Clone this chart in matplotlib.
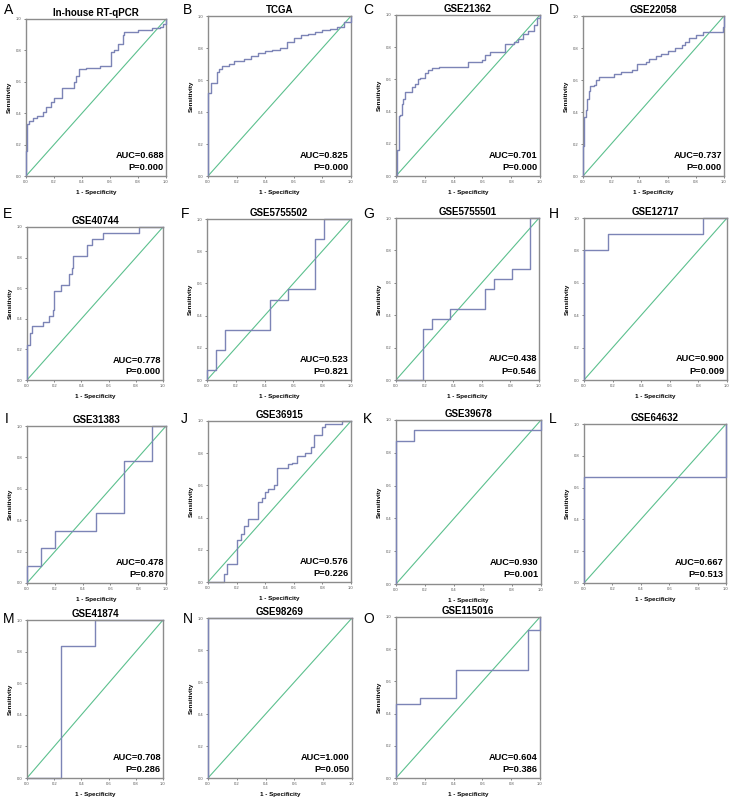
import matplotlib
matplotlib.use("Agg")
import matplotlib.pyplot as plt

plt.rcParams["font.family"] = ["Liberation Sans", "DejaVu Sans"]

W, H = 732, 807

titles = ["In-house RT-qPCR", "TCGA", "GSE21362", "GSE22058", "GSE40744",
          "GSE5755502", "GSE5755501", "GSE12717", "GSE31383", "GSE36915",
          "GSE39678", "GSE64632", "GSE41874", "GSE98269", "GSE115016"]
letters = list("ABCDEFGHIJKLMNO")
auc = ["0.688", "0.825", "0.701", "0.737", "0.778", "0.523", "0.438", "0.900",
       "0.478", "0.576", "0.930", "0.667", "0.708", "1.000", "0.604"]
pval = ["0.000", "0.000", "0.000", "0.000", "0.000", "0.821", "0.546", "0.009",
        "0.870", "0.226", "0.001", "0.513", "0.286", "0.050", "0.386"]

# step curves: (1 - specificity, sensitivity) corners
fpr_A = [0, 0, 0.01, 0.02, 0.05, 0.08, 0.12, 0.14, 0.18, 0.20, 0.26, 0.34, 0.36, 0.38, 0.43,
         0.53, 0.61, 0.63, 0.66, 0.69, 0.70, 0.80, 0.90, 0.96, 0.98, 1.0]
tpr_A = [0, 0.16, 0.33, 0.35, 0.37, 0.38, 0.41, 0.44, 0.47, 0.50, 0.56, 0.60, 0.64, 0.68, 0.69,
         0.70, 0.79, 0.80, 0.84, 0.90, 0.92, 0.93, 0.94, 0.95, 0.97, 1.0]
fpr_B = [0, 0, 0.02, 0.06, 0.08, 0.10, 0.15, 0.18, 0.25, 0.30, 0.35, 0.40, 0.45, 0.50, 0.55,
         0.60, 0.65, 0.70, 0.75, 0.80, 0.85, 0.90, 0.95, 1.0]
tpr_B = [0, 0.52, 0.58, 0.65, 0.67, 0.69, 0.70, 0.72, 0.73, 0.75, 0.77, 0.78, 0.79, 0.80, 0.84,
         0.86, 0.88, 0.89, 0.90, 0.91, 0.92, 0.93, 0.96, 1.0]
fpr_C = [0, 0.01, 0.02, 0.03, 0.04, 0.05, 0.06, 0.11, 0.13, 0.15, 0.17, 0.20, 0.22, 0.25, 0.30,
         0.50, 0.60, 0.62, 0.65, 0.76, 0.82, 0.85, 0.88, 0.92, 0.96, 0.98, 1.0]
tpr_C = [0, 0.16, 0.37, 0.38, 0.45, 0.48, 0.52, 0.55, 0.57, 0.60, 0.61, 0.64, 0.66, 0.67, 0.68,
         0.71, 0.72, 0.75, 0.77, 0.82, 0.83, 0.85, 0.88, 0.90, 0.94, 0.98, 1.0]
fpr_D = [0, 0, 0.01, 0.02, 0.03, 0.04, 0.05, 0.08, 0.09, 0.11, 0.22, 0.27, 0.35, 0.38, 0.45,
         0.47, 0.52, 0.55, 0.60, 0.65, 0.70, 0.72, 0.75, 0.80, 0.85, 0.99, 1.0]
tpr_D = [0, 0.19, 0.37, 0.41, 0.48, 0.53, 0.56, 0.57, 0.60, 0.62, 0.64, 0.65, 0.66, 0.70, 0.71,
         0.73, 0.75, 0.76, 0.78, 0.80, 0.82, 0.84, 0.86, 0.88, 0.90, 0.93, 1.0]
fpr_E = [0, 0, 0.02, 0.04, 0.12, 0.16, 0.19, 0.20, 0.25, 0.31, 0.33, 0.34, 0.44, 0.48, 0.56,
         0.82, 1.0]
tpr_E = [0, 0.23, 0.31, 0.35, 0.38, 0.42, 0.46, 0.58, 0.62, 0.69, 0.73, 0.81, 0.88, 0.92, 0.96,
         1.0, 1.0]
fpr_F = [0, 0, 0.0625, 0.125, 0.4375, 0.5625, 0.75, 0.8125, 1.0]
tpr_F = [0, 0.0625, 0.1875, 0.3125, 0.5, 0.5625, 0.875, 1.0, 1.0]
fpr_G = [0, 0.1875, 0.25, 0.375, 0.625, 0.6875, 0.8125, 0.9375, 1.0]
tpr_G = [0, 0.3125, 0.375, 0.4375, 0.5625, 0.625, 0.6875, 1.0, 1.0]
fpr_H = [0, 0, 0.167, 0.833, 1.0]
tpr_H = [0, 0.8, 0.9, 1.0, 1.0]
fpr_I = [0, 0, 0.1, 0.2, 0.5, 0.7, 0.9, 1.0]
tpr_I = [0, 0.111, 0.222, 0.333, 0.444, 0.778, 1.0, 1.0]
fpr_J = [0, 0.11, 0.13, 0.20, 0.23, 0.25, 0.28, 0.35, 0.38, 0.40, 0.42, 0.46, 0.48, 0.56, 0.59,
         0.62, 0.68, 0.72, 0.74, 0.80, 0.82, 0.94, 1.0]
tpr_J = [0, 0.05, 0.11, 0.26, 0.30, 0.35, 0.39, 0.50, 0.52, 0.56, 0.58, 0.60, 0.71, 0.73, 0.74,
         0.78, 0.80, 0.84, 0.91, 0.96, 0.98, 1.0, 1.0]
fpr_K = [0, 0, 0.125, 1.0]
tpr_K = [0, 0.875, 0.9375, 1.0]
fpr_L = [0, 0, 1.0]
tpr_L = [0, 0.667, 1.0]
fpr_M = [0, 0.25, 0.5, 1.0]
tpr_M = [0, 0.833, 1.0, 1.0]
fpr_N = [0, 0, 1.0]
tpr_N = [0, 1.0, 1.0]
fpr_O = [0, 0, 0.17, 0.42, 0.92, 1.0]
tpr_O = [0, 0.46, 0.50, 0.67, 0.92, 1.0]

fprs = [fpr_A, fpr_B, fpr_C, fpr_D, fpr_E, fpr_F, fpr_G, fpr_H,
        fpr_I, fpr_J, fpr_K, fpr_L, fpr_M, fpr_N, fpr_O]
tprs = [tpr_A, tpr_B, tpr_C, tpr_D, tpr_E, tpr_F, tpr_G, tpr_H,
        tpr_I, tpr_J, tpr_K, tpr_L, tpr_M, tpr_N, tpr_O]

# axes boxes in pixels: left, top, right, bottom
boxes = [(26, 19, 166, 176), (208, 16, 351, 176), (396, 15, 540, 176), (583, 16, 724, 176),
         (27, 227, 163, 380), (207, 219, 351, 380), (396, 218, 539, 380), (584, 218, 727, 380),
         (27, 426, 166, 583), (208, 421, 351, 582), (396, 420, 541, 584), (584, 424, 726, 583),
         (27, 620, 163, 778), (208, 618, 352, 778), (396, 617, 540, 778)]
letter_pos = [(4, 3), (183, 3), (363, 3), (549, 3),
              (3, 207), (181, 207), (363, 207), (549, 207),
              (5, 412), (181, 412), (363, 412), (549, 412),
              (3, 612), (183, 612), (363, 612)]

curve_col = "#7c84b6"
diag_col = "#5cc08e"
frame_col = "#8c8c8c"

fig = plt.figure(figsize=(W / 100, H / 100), dpi=100)

for i in range(15):
    l, t, r, b = boxes[i]
    ax = fig.add_axes([l / W, 1 - b / H, (r - l) / W, (b - t) / H])
    ax.plot([0, 1], [0, 1], color=diag_col, lw=0.8)
    ax.plot(fprs[i], tprs[i], drawstyle="steps-post", color=curve_col, lw=1.0,
            zorder=3, clip_on=False)
    ax.set_xlim(0, 1)
    ax.set_ylim(0, 1)
    ax.set_xticks([0, 0.2, 0.4, 0.6, 0.8, 1.0])
    ax.set_yticks([0, 0.2, 0.4, 0.6, 0.8, 1.0])
    ax.set_xticklabels(["0.0", "0.2", "0.4", "0.6", "0.8", "1.0"])
    ax.set_yticklabels(["0.0", "0.2", "0.4", "0.6", "0.8", "1.0"])
    ax.tick_params(labelsize=3, colors="#555555", length=1.5, width=0.5, pad=1.5)
    for s in ax.spines.values():
        s.set_color(frame_col)
        s.set_linewidth(1.0)
    # top and bottom frame lines sit over the curve, as in the original
    ax.spines["top"].set_zorder(4)
    ax.spines["bottom"].set_zorder(4)
    ax.set_title(titles[i], fontsize=7, fontweight="bold", pad=2.5)
    ax.set_xlabel("1 - Specificity", fontsize=4.5, fontweight="bold", labelpad=4)
    ax.set_ylabel("Sensitivity", fontsize=4.5, fontweight="bold", labelpad=3)
    ax.text(0.985, 0.13, "AUC=" + auc[i], transform=ax.transAxes, ha="right", va="center",
            fontsize=6.7, fontweight="bold")
    ax.text(0.985, 0.055, "P=" + pval[i], transform=ax.transAxes, ha="right", va="center",
            fontsize=6.7, fontweight="bold")
    lx, ly = letter_pos[i]
    fig.text(lx / W, 1 - ly / H, letters[i], ha="left", va="top", fontsize=10)

fig.savefig("out.png", dpi=100)
